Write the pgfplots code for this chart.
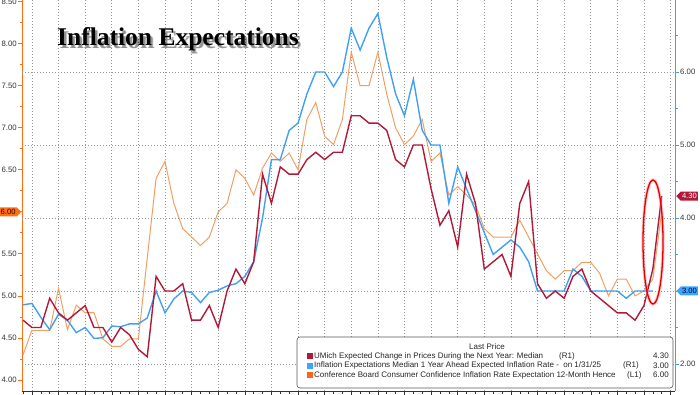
\documentclass[border=0pt]{standalone}
\usepackage{pgfplots}
\pgfplotsset{compat=1.18}
\usepackage{fontspec}
\setmainfont{Liberation Sans}
\newfontfamily\titlefont{Liberation Serif}
\usetikzlibrary{shapes.symbols}

\definecolor{umred}{RGB}{178,24,56}
\definecolor{nyblue}{RGB}{66,160,240}
\definecolor{cborange}{RGB}{240,160,100}
\definecolor{axorange}{RGB}{255,110,20}
\definecolor{gridgray}{RGB}{150,150,150}
\definecolor{tickgray}{RGB}{50,50,50}
\definecolor{tagblue}{RGB}{60,165,255}
\definecolor{legorange}{RGB}{255,100,20}

\pgfplotstableread{
x y
0 2.6
1 2.5
2 2.5
3 2.9
4 2.7
5 2.6
6 2.7
7 2.8
8 2.5
9 2.5
10 2.3
11 2.5
12 2.4
13 2.2
14 2.1
15 3.2
16 3.0
17 3.0
18 3.1
19 2.6
20 2.6
21 2.8
22 2.5
23 3.0
24 3.3
25 3.1
26 3.4
27 4.6
28 4.2
29 4.7
30 4.6
31 4.6
32 4.8
33 4.9
34 4.8
35 4.9
36 4.9
37 5.4
38 5.4
39 5.3
40 5.3
41 5.2
42 4.8
43 4.7
44 5.0
45 5.0
46 4.4
47 3.9
48 4.1
49 3.6
50 4.6
51 4.2
52 3.3
53 3.4
54 3.5
55 3.2
56 4.2
57 4.5
58 3.1
59 2.9
60 3.0
61 2.9
62 3.2
63 3.3
64 3.0
65 2.9
66 2.8
67 2.7
68 2.7
69 2.6
70 2.8
71 3.3
72 4.3
}\umich

\pgfplotstableread{
x y
0 2.81
1 2.83
2 2.64
3 2.47
4 2.68
5 2.60
6 2.43
7 2.50
8 2.35
9 2.36
10 2.52
11 2.51
12 2.55
13 2.55
14 2.63
15 3.00
16 2.70
17 2.89
18 3.00
19 2.98
20 2.84
21 2.98
22 3.01
23 3.07
24 3.10
25 3.2
26 3.4
27 4.0
28 4.8
29 4.8
30 5.2
31 5.3
32 5.7
33 6.0
34 6.0
35 5.8
36 6.0
37 6.6
38 6.3
39 6.6
40 6.8
41 6.2
42 5.7
43 5.4
44 5.9
45 5.2
46 5.0
47 5.0
48 4.2
49 4.7
50 4.4
51 4.1
52 3.8
53 3.5
54 3.6
55 3.7
56 3.6
57 3.4
58 3.0
59 3.0
60 3.0
61 3.0
62 3.3
63 3.2
64 3.0
65 3.0
66 3.0
67 3.0
68 2.9
69 3.0
70 3.0
71 3.0
}\nyfed

\pgfplotstableread{
x y
0 4.30
1 4.59
2 4.59
3 4.59
4 5.09
5 4.60
6 4.89
7 4.80
8 4.80
9 4.49
10 4.40
11 4.40
12 4.49
13 4.49
14 5.45
15 6.40
16 6.60
17 6.10
18 5.80
19 5.70
20 5.60
21 5.70
22 6.00
23 6.10
24 6.50
25 6.40
26 6.20
27 6.52
28 6.70
29 6.60
30 6.70
31 6.50
32 7.10
33 7.30
34 6.90
35 6.80
36 7.10
37 7.90
38 7.50
39 7.50
40 7.90
41 7.40
42 7.00
43 6.80
44 6.90
45 7.10
46 6.60
47 6.70
48 6.20
49 6.30
50 6.20
51 6.08
52 5.80
53 5.70
54 5.70
55 5.70
56 5.90
57 5.70
58 5.50
59 5.30
60 5.20
61 5.30
62 5.30
63 5.40
64 5.40
65 5.27
66 5.00
67 5.20
68 5.20
69 5.00
70 5.06
71 5.20
72 6.00
}\confboard

\pgfplotsset{
  base/.style={
    at={(22pt,3pt)}, anchor=south west, scale only axis,
    width=653pt, height=391pt,
    xmin=-0.12, xmax=73.5,
    clip mode=individual,
    tick align=outside,
    major tick length=4pt, minor tick length=2.5pt,
    tick label style={font=\fontsize{7.8}{8}\selectfont, text=tickgray, inner sep=1pt},
    /pgf/number format/fixed,
    /pgf/number format/fixed zerofill,
    /pgf/number format/precision=2,
    /pgf/number format/assume math mode=true,
    grid style={gridgray, line width=0.55pt, dash pattern=on 0.7pt off 2.3pt},
  }
}

\begin{document}
\begin{tikzpicture}
\useasboundingbox (0,0) rectangle (700pt,394pt);

% Left axis: Conference Board
\begin{axis}[base,
  ymin=3.869, ymax=8.52,
  axis x line*=bottom, axis y line*=left,
  x axis line style={draw=tickgray, line width=0.6pt},
  y axis line style={draw=axorange, line width=0.9pt},
  xtick={1,4,...,73}, xticklabels={}, minor xtick={0,...,73},
  xtick style={tickgray, line width=0.5pt},
  xmajorgrids,
  ytick={4,4.5,5,5.5,6,6.5,7,7.5,8,8.5},
  yticklabels={4.00,4.50,5.00,5.50,,6.50,7.00,7.50,8.00,8.50},
  minor ytick={4.25,4.75,5.25,5.75,6.25,6.75,7.25,7.75,8.25},
  ytick style={axorange, line width=0.8pt},
]
\addplot[cborange, line width=1.0pt] table[x=x,y=y]{\confboard};
\coordinate (tagL) at (axis cs:-0.12,6.0);
\end{axis}

% Right axis: UMich and NY Fed
\begin{axis}[base,
  ymin=1.63, ymax=6.986,
  axis x line=none, axis y line*=right,
  y axis line style={draw=nyblue, line width=0.9pt},
  ytick={2,3,4,5,6},
  yticklabels={2.00,,4.00,5.00,6.00},
  minor ytick={1.5,2.5,3.5,4.5,5.5,6.5},
  ytick style={nyblue, line width=0.8pt},
  ymajorgrids,
]
\addplot[nyblue, line width=1.4pt] table[x=x,y=y]{\nyfed};
\addplot[umred, line width=1.4pt] table[x=x,y=y]{\umich};
\coordinate (tagR1) at (axis cs:73.5,4.3);
\coordinate (tagR2) at (axis cs:73.5,3.0);
\end{axis}

% value tags
\node[signal, signal to=east, fill=axorange, text=black!80!red,
      font=\fontsize{7.6}{8}\selectfont, inner sep=1.2pt, minimum height=9pt,
      anchor=east] at ([xshift=-0.5pt]tagL) {6.00};
\node[signal, signal to=west, fill=umred, text=white,
      font=\fontsize{7.6}{8}\selectfont, inner sep=1.2pt, minimum height=9pt,
      anchor=west] at ([xshift=1pt]tagR1) {4.30};
\node[signal, signal to=west, fill=tagblue, text=black!80!blue,
      font=\fontsize{7.6}{8}\selectfont, inner sep=1.2pt, minimum height=9pt,
      anchor=west] at ([xshift=1pt]tagR2) {3.00};

% title with shadow
\foreach \d/\o in {3.0/0.18, 2.2/0.3}{
  \node[anchor=base west, inner sep=0pt, text=black, opacity=\o,
        font=\titlefont\bfseries\fontsize{25.5}{27}\selectfont]
        at (57pt+\d pt,348pt-\d pt) {Inflation Expectations};
}
\node[anchor=base west, inner sep=0pt,
      font=\titlefont\bfseries\fontsize{25.5}{27}\selectfont]
      at (57pt,348pt) {Inflation Expectations};

% highlight ellipse
\draw[red!50, opacity=0.45, line width=3.2pt] (653pt,152pt) ellipse (10pt and 62pt);
\draw[red!90!black, line width=1.3pt] (653pt,152pt) ellipse (10pt and 62pt);

% legend box
\draw[rounded corners=3pt, fill=white, draw=black!65, line width=0.6pt]
  (297pt,6pt) rectangle (673pt,57pt);
\begin{scope}[every node/.style={font=\fontsize{8.0}{9}\selectfont, text=black!85, inner sep=0pt}]
\node at (487pt,47pt) {Last Price};
\fill[umred] (307pt,35pt) rectangle (312.5pt,41pt);
\fill[tagblue] (307pt,25.3pt) rectangle (312.5pt,31.3pt);
\fill[legorange] (307pt,16pt) rectangle (312.5pt,22pt);
\node[anchor=west] at (314pt,38pt) {UMich Expected Change in Prices During the Next Year: Median};
\node[anchor=west] at (314pt,28.3pt) {Inflation Expectations Median 1 Year Ahead Expected Inflation Rate -\ \ on 1/31/25};
\node[anchor=west] at (314pt,19pt) {Conference Board Consumer Confidence Inflation Rate Expectation 12-Month Hence};
\node[anchor=west] at (559pt,38pt) {(R1)};
\node[anchor=west] at (623pt,28.3pt) {(R1)};
\node[anchor=west] at (627pt,19pt) {(L1)};
\node[anchor=east] at (669pt,38pt) {4.30};
\node[anchor=east] at (669pt,28.3pt) {3.00};
\node[anchor=east] at (669pt,19pt) {6.00};
\end{scope}
\end{tikzpicture}
\end{document}
